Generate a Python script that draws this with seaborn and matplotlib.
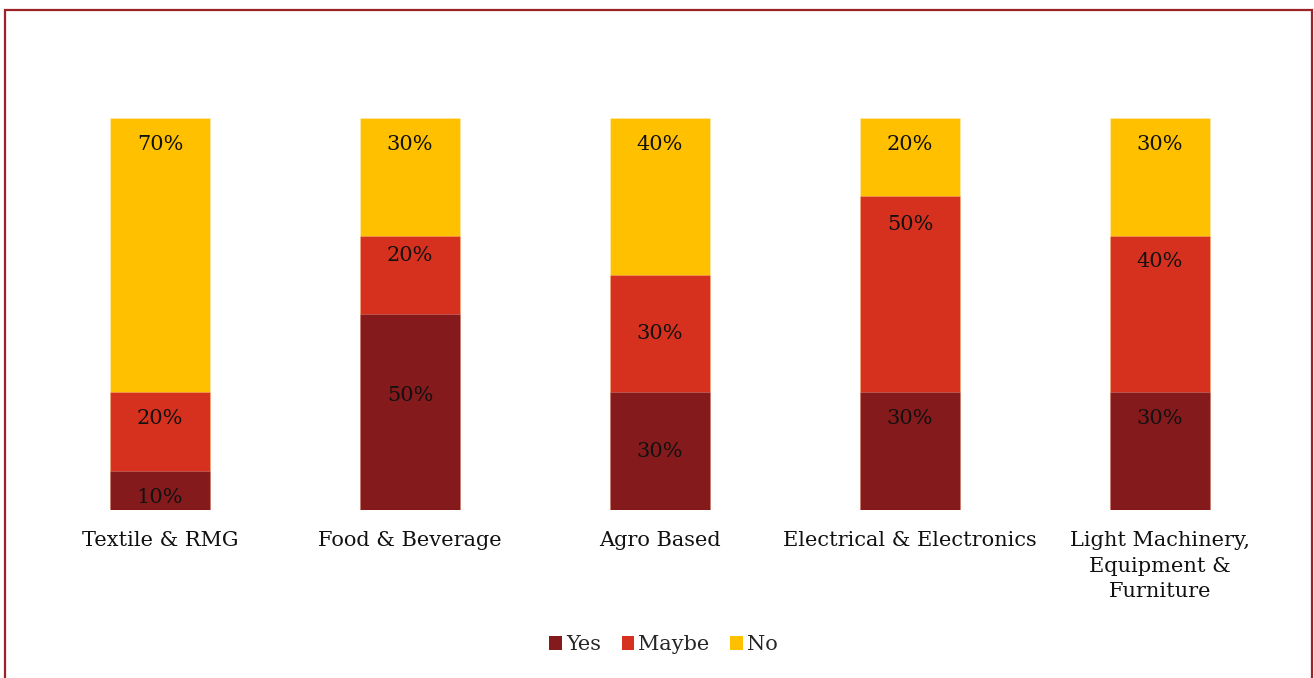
import matplotlib
matplotlib.use("Agg")
import matplotlib.pyplot as plt
from matplotlib.patches import Patch, Rectangle
import numpy as np
import pandas as pd
import seaborn as sns

categories = [
    "Textile & RMG",
    "Food & Beverage",
    "Agro Based",
    "Electrical & Electronics",
    "Light Machinery,\nEquipment &\nFurniture",
]
yes_pct = [10, 50, 30, 30, 30]
maybe_pct = [20, 20, 30, 50, 40]
no_pct = [70, 30, 40, 20, 30]
series_names = ["Yes", "Maybe", "No"]
series_colors = ["#841A1B", "#D6301F", "#FFC000"]

# how far below each segment's top its label sits (points); None = centred
label_drop = {
    "Yes": [19, 59, None, 19, 19],
    "Maybe": [19, 14, None, 20, 19],
    "No": [19, 19, 19, 19, 19],
}

sns.set_theme(style="white")
plt.rcParams["font.family"] = ["DejaVu Serif"]

df = pd.DataFrame({
    "category": categories,
    "Yes": yes_pct,
    "Maybe": maybe_pct,
    "No": no_pct,
})
df["top_yes"] = df["Yes"]
df["top_maybe"] = df["Yes"] + df["Maybe"]
df["top_no"] = df["Yes"] + df["Maybe"] + df["No"]

fig = plt.figure(figsize=(13.14, 6.78), dpi=100)
ax = fig.add_axes([0.0266, 0.2478, 0.9513, 0.5782])

for col, color in zip(["top_no", "top_maybe", "top_yes"], series_colors[::-1]):
    sns.barplot(data=df, x="category", y=col, order=categories, color=color,
                width=0.4, saturation=1, edgecolor=(1, 1, 1, 0.25),
                linewidth=0.6, ax=ax)

ax.set_xlim(-0.5, len(categories) - 0.5)
ax.set_ylim(0, 100)
ax.set_xlabel("")
ax.set_ylabel("")
ax.set_yticks([])
for s in ax.spines.values():
    s.set_visible(False)
ax.tick_params(axis="x", length=0, pad=15, labelsize=15, colors="#111111")
for t in ax.get_xticklabels():
    t.set_linespacing(1.45)

# segment labels
bottoms = np.zeros(len(categories))
for name in series_names:
    vals = df[name].to_numpy()
    tops = bottoms + vals
    for i, v in enumerate(vals):
        drop = label_drop[name][i]
        if drop is None:
            ax.text(i, (bottoms[i] + tops[i]) / 2, f"{v}%", ha="center",
                    va="center", fontsize=15, color="#111111")
        else:
            ax.annotate(f"{v}%", (i, tops[i]), xytext=(0, -drop),
                        textcoords="offset points", ha="center", va="center",
                        fontsize=15, color="#111111")
    bottoms = tops

handles = [Patch(facecolor=c, edgecolor="none") for c in series_colors]
fig.legend(handles, series_names, loc="center", bbox_to_anchor=(0.505, 0.049),
           ncol=3, frameon=False, fontsize=15, handlelength=0.6,
           handleheight=0.6, handletextpad=0.2, columnspacing=1.0)

# outer frame
fig.patches.append(Rectangle((5 / 1314, -0.05), 1307 / 1314, 1 - 10 / 678 + 0.05,
                             transform=fig.transFigure, fill=False,
                             edgecolor="#9B2328", linewidth=1.6))

fig.savefig("out.png", dpi=100, facecolor="white")
